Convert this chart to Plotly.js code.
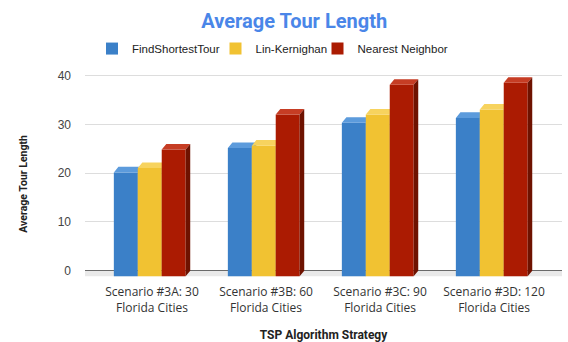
<!DOCTYPE html>
<html>
<head>
<meta charset="utf-8">
<script src="https://cdn.plot.ly/plotly-3.0.1.min.js"></script>
<style>
  html, body { margin: 0; padding: 0; background: #ffffff; }
  #chart { width: 568px; height: 342px; }
</style>
</head>
<body>
<div id="chart"></div>
<script>
// Scenarios along the x axis
const categories = [
  'Scenario #3A: 30<br>Florida Cities',
  'Scenario #3B: 60<br>Florida Cities',
  'Scenario #3C: 90<br>Florida Cities',
  'Scenario #3D: 120<br>Florida Cities'
];

// Average tour length per algorithm
const findShortestTour = [21.3, 26.3, 31.5, 32.5];
const linKernighan     = [22.2, 26.8, 33.2, 34.2];
const nearestNeighbor  = [26.0, 33.2, 39.3, 39.7];

const seriesNames = ['FindShortestTour', 'Lin-Kernighan', 'Nearest Neighbor'];

const yTicks = [0, 10, 20, 30, 40];

// Styling for the extruded bars: front, top and side faces
const palette = [
  { front: '#3b80c8', top: '#5c9bdc', side: '#285d92' },
  { front: '#f1c232', top: '#f7d35e', side: '#b88f1d' },
  { front: '#ab1b02', top: '#c63d24', side: '#6e1200' }
];

const barWidth = 0.21;     // width of one front face (x units)
const groupLeft = -0.335;  // left edge of the first front face, relative to category
const depthX = 0.04;       // extrusion depth in x units
const depthY = 1.15;       // extrusion depth in y units

const seriesValues = [findShortestTour, linKernighan, nearestNeighbor];
const legendIds = ['legend', 'legend2', 'legend3'];
const xIdx = categories.map((_, i) => i);

const traces = [];
seriesValues.forEach((vals, s) => {
  const axisSuffix = s === 0 ? '' : String(s + 1);
  const xa = 'x' + axisSuffix, ya = 'y' + axisSuffix;
  const off = groupLeft + s * barWidth;

  // front faces, shifted down/left by the extrusion depth
  traces.push({
    type: 'bar',
    name: seriesNames[s],
    legend: legendIds[s],
    x: xIdx,
    y: vals,
    base: vals.map(() => -depthY),
    width: barWidth,
    offset: off,
    marker: { color: palette[s].front, line: { width: 0 } },
    xaxis: xa, yaxis: ya,
    hovertemplate: seriesNames[s] + ': %{y}<extra></extra>'
  });

  // top faces
  const tx = [], ty = [];
  vals.forEach((v, i) => {
    const x0 = i + off, x1 = x0 + barWidth;
    tx.push(x0, x1, x1 + depthX, x0 + depthX, null);
    ty.push(v - depthY, v - depthY, v, v, null);
  });
  traces.push({
    type: 'scatter', mode: 'lines', x: tx, y: ty, fill: 'toself',
    fillcolor: palette[s].top, line: { width: 0 }, hoverinfo: 'skip',
    showlegend: false, xaxis: xa, yaxis: ya
  });

  // right side faces
  const sx = [], sy = [];
  vals.forEach((v, i) => {
    const x1 = i + off + barWidth;
    sx.push(x1, x1 + depthX, x1 + depthX, x1, null);
    sy.push(-depthY, 0, v, v - depthY, null);
  });
  traces.push({
    type: 'scatter', mode: 'lines', x: sx, y: sy, fill: 'toself',
    fillcolor: palette[s].side, line: { width: 0 }, hoverinfo: 'skip',
    showlegend: false, xaxis: xa, yaxis: ya
  });
});

const xRange = [-0.588, 3.596];
const yRange = [-1.3, 42.0];

const hiddenX = { overlaying: 'x', range: xRange, visible: false, fixedrange: true };
const hiddenY = { overlaying: 'y', range: yRange, visible: false, fixedrange: true };

const legendFont = { family: 'Liberation Sans, Arial, sans-serif', size: 11.5, color: '#222222' };
function legendAt(xpx) {
  return {
    orientation: 'h',
    x: xpx / 568, xref: 'container', xanchor: 'left',
    y: 0.858, yref: 'container', yanchor: 'middle',
    font: legendFont,
    itemwidth: 30,
    bgcolor: 'rgba(0,0,0,0)'
  };
}

const layout = {
  width: 568,
  height: 342,
  margin: { l: 85, r: 6, t: 66, b: 65 },
  paper_bgcolor: '#ffffff',
  plot_bgcolor: '#ffffff',
  showlegend: true,
  title: {
    text: 'Average Tour Length',
    x: 0.518, xref: 'container', xanchor: 'center',
    y: 0.938, yref: 'container', yanchor: 'middle',
    font: { family: 'Roboto, sans-serif', size: 20, color: '#4a86e8', weight: 700 }
  },
  legend: legendAt(92),
  legend2: legendAt(215.5),
  legend3: legendAt(317.5),
  xaxis: {
    range: xRange,
    tickmode: 'array',
    tickvals: xIdx,
    ticktext: categories,
    showgrid: false,
    zeroline: false,
    showline: false,
    ticks: '',
    ticklabelstandoff: 6,
    tickfont: { family: 'Open Sans, sans-serif', size: 12, color: '#333333' },
    fixedrange: true,
    title: {
      text: 'TSP Algorithm Strategy',
      standoff: 17,
      font: { family: 'Roboto, sans-serif', size: 12, color: '#222222', weight: 700 }
    }
  },
  yaxis: {
    range: yRange,
    tickmode: 'array',
    tickvals: yTicks,
    showgrid: true,
    gridcolor: '#dddddd',
    gridwidth: 1,
    zeroline: true,
    zerolinecolor: '#6a6a6a',
    zerolinewidth: 1.5,
    ticks: '',
    ticklabelstandoff: 13,
    tickfont: { family: 'Liberation Sans, Arial, sans-serif', size: 12, color: '#444444' },
    fixedrange: true
  },
  xaxis2: hiddenX, yaxis2: hiddenY,
  xaxis3: hiddenX, yaxis3: hiddenY,
  annotations: [
    {
      // y axis title, set a little below the plot's vertical centre
      text: 'Average Tour Length',
      xref: 'paper', x: -0.128, xanchor: 'center',
      yref: 'paper', y: 0.442, yanchor: 'middle',
      textangle: -90, showarrow: false,
      font: { family: 'Roboto, sans-serif', size: 10.5, color: '#222222', weight: 700 }
    }
  ],
  shapes: [
    {
      // floor strip beneath the baseline
      type: 'rect', layer: 'below',
      xref: 'paper', x0: 0, x1: 1,
      yref: 'y', y0: -depthY, y1: 0,
      fillcolor: '#e9e9e9', line: { width: 0 }
    }
  ]
};

Plotly.newPlot('chart', traces, layout, { displayModeBar: false, staticPlot: true });
</script>
</body>
</html>
